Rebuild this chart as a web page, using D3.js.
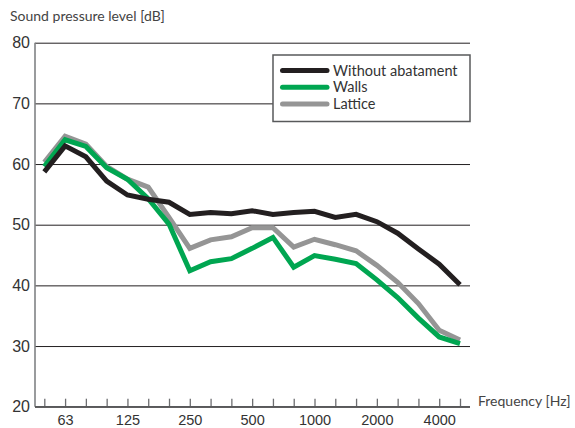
<!DOCTYPE html>
<html>
<head>
<meta charset="utf-8">
<script src="https://cdn.jsdelivr.net/npm/d3@7"></script>
<style>
  body { margin: 0; background: #fff; }
  svg { display: block; font-family: Lato, "Open Sans", sans-serif; }
  .grid line { stroke: #231f20; stroke-width: 1; }
  .grid text { fill: #333; font-size: 16px; }
  .xaxis line { stroke: #6d6e71; stroke-width: 1.3; }
  .xaxis text { fill: #333; font-size: 14.5px; }
  .label { fill: #444; font-size: 14px; }
  .legend text { fill: #333; font-size: 14.5px; }
</style>
</head>
<body>
<div id="chart"></div>
<script>
// data: one-third octave bands, 50 Hz - 5000 Hz
const bands = ["50", "63", "80", "100", "125", "160", "200", "250", "315", "400", "500",
    "630", "800", "1000", "1250", "1600", "2000", "2500", "3150", "4000", "5000"];
const bandLabels = ["63", "125", "250", "500", "1000", "2000", "4000"];
const yTicks = [20, 30, 40, 50, 60, 70, 80];

const withoutAbatement = [58.7, 63.0, 61.2, 57.2, 54.9, 54.2, 53.7, 51.7, 52.0, 51.8, 52.3,
    51.7, 52.0, 52.2, 51.2, 51.7, 50.5, 48.6, 46.0, 43.5, 40.1];
const walls = [59.6, 64.0, 62.9, 59.4, 57.5, 54.3, 50.1, 42.4, 43.9, 44.4, 46.1,
    47.9, 43.0, 44.9, 44.3, 43.6, 40.9, 38.0, 34.6, 31.5, 30.4];
const lattice = [60.3, 64.6, 63.3, 59.6, 57.5, 56.2, 51.2, 46.1, 47.5, 48.0, 49.5,
    49.5, 46.3, 47.6, 46.7, 45.7, 43.3, 40.5, 37.0, 32.6, 31.0];

const series = [
    { name: "Lattice", values: lattice, color: "#959595" },
    { name: "Walls", values: walls, color: "#00a651" },
    { name: "Without abatament", values: withoutAbatement, color: "#231f20" }
];
const legendOrder = ["Without abatament", "Walls", "Lattice"];

// layout
const svgWidth = 575,
    svgHeight = 428,
    margin = { top: 42.7, right: 105, bottom: 21.3, left: 35 },
    width = svgWidth - margin.left - margin.right,
    height = svgHeight - margin.top - margin.bottom;

let svg = d3.select("#chart").append("svg")
    .attr("width", svgWidth)
    .attr("height", svgHeight);
let g = svg.append("g")
    .attr("transform", `translate(${margin.left},${margin.top})`);

// scales
let x = d3.scalePoint()
    .domain(bands)
    .range([9.3, 425]);
let y = d3.scaleLinear()
    .domain([20, 80])
    .range([height, 0]);

// horizontal grid + y labels
g.append("g")
    .attr("class", "grid")
    .call(d3.axisLeft(y).tickValues(yTicks).tickSizeInner(-width).tickSizeOuter(0).tickPadding(5))
    .call((sel) => sel.select(".domain").remove());

// y axis line
g.append("line")
    .attr("x1", 0).attr("x2", 0)
    .attr("y1", 0).attr("y2", height)
    .attr("stroke", "#808285")
    .attr("stroke-width", 1.6);

// x axis: ticks point up into the plot
g.append("g")
    .attr("class", "xaxis")
    .attr("transform", `translate(0,${height})`)
    .call(d3.axisBottom(x)
        .tickSizeInner(-8)
        .tickSizeOuter(0)
        .tickPadding(8)
        .tickFormat((d) => bandLabels.includes(d) ? d : ""))
    .call((sel) => sel.select(".domain").remove());

g.append("line")
    .attr("x1", 0).attr("x2", width)
    .attr("y1", height).attr("y2", height)
    .attr("stroke", "#58595b")
    .attr("stroke-width", 1.6);

// axis titles
svg.append("text")
    .attr("class", "label")
    .attr("x", 10)
    .attr("y", 21)
    .text("Sound pressure level [dB]");
svg.append("text")
    .attr("class", "label")
    .attr("x", 478)
    .attr("y", 406)
    .text("Frequency [Hz]");

// lines
let line = d3.line()
    .x((d, i) => x(bands[i]))
    .y((d) => y(d));

g.selectAll(".series")
    .data(series)
    .join("path")
    .attr("class", "series")
    .attr("d", (d) => line(d.values))
    .attr("fill", "none")
    .attr("stroke", (d) => d.color)
    .attr("stroke-width", 5)
    .attr("stroke-linejoin", "miter")
    .attr("stroke-linecap", "butt");

// legend
let legend = svg.append("g")
    .attr("class", "legend")
    .attr("transform", "translate(273,55)");
legend.append("rect")
    .attr("width", 197)
    .attr("height", 66.5)
    .attr("fill", "#fff")
    .attr("stroke", "#58595b")
    .attr("stroke-width", 1.5);

let rows = legend.selectAll(".row")
    .data(legendOrder.map((n) => series.find((s) => s.name == n)))
    .join("g")
    .attr("class", "row")
    .attr("transform", (d, i) => `translate(0,${15.5 + i * 16.7})`);
rows.append("line")
    .attr("x1", 9.5).attr("x2", 54)
    .attr("stroke", (d) => d.color)
    .attr("stroke-width", 5)
    .attr("stroke-linecap", "round");
rows.append("text")
    .attr("x", 60)
    .attr("dy", "0.36em")
    .text((d) => d.name);
</script>
</body>
</html>
